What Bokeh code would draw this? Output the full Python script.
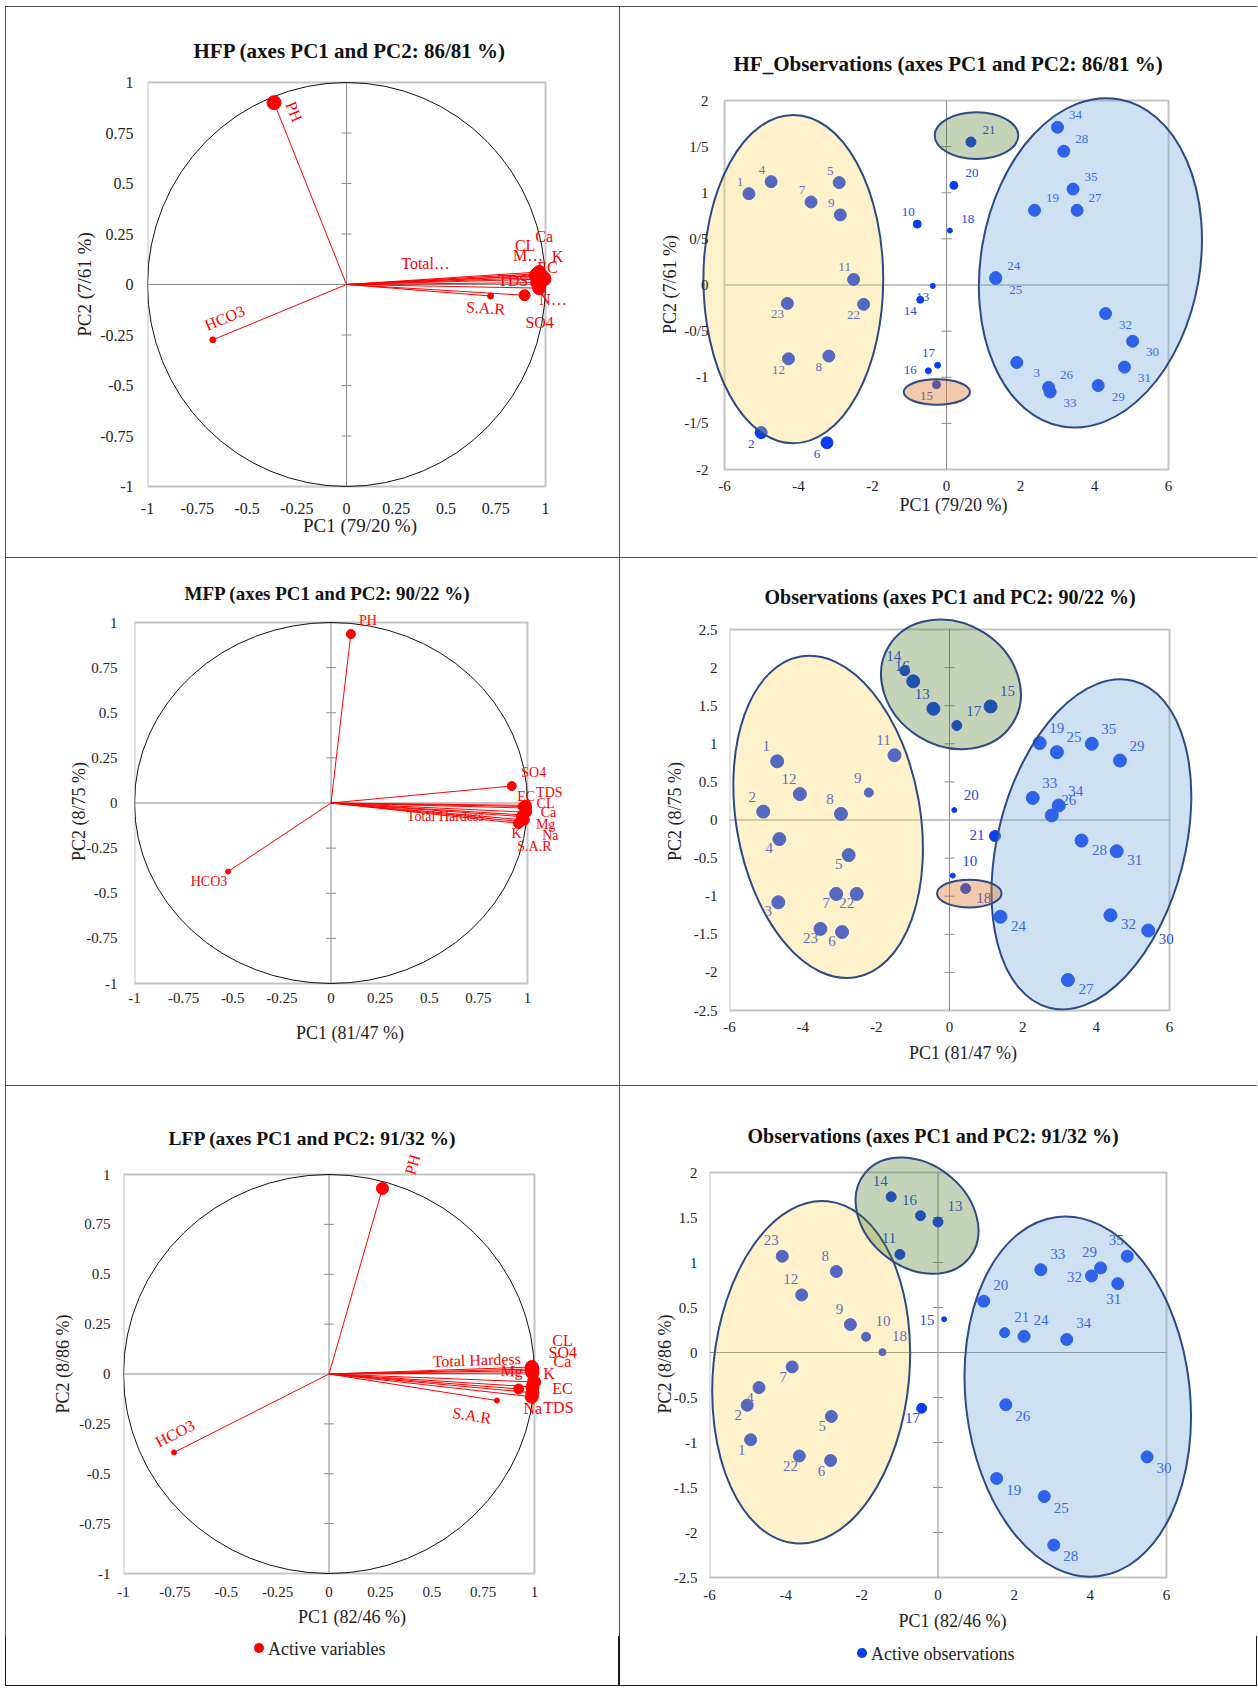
import math
from bokeh.plotting import figure
from bokeh.layouts import row, column
from bokeh.models import (ColumnDataSource, Range1d, FixedTicker, CustomJSTickFormatter, Spacer, Div)
from bokeh.core.properties import value
from bokeh.embed import file_html
from bokeh.resources import INLINE

SERIF = "Liberation Serif"
RED = "#ff0000"
BLUE = "#0a3cf0"
TXT = "#222222"

# ====================== DATA ======================
VARIABLES = ["PH", "HCO3", "EC", "TDS", "Ca", "Mg", "Na", "K", "CL", "SO4", "Total Hardness", "S.A.R"]

# HFP correlation circle
HFP_PC1 = [-0.364, -0.672, 0.995, 0.958, 0.968, 0.978, 0.968, 0.990, 0.958, 0.895, 0.950, 0.724]
HFP_PC2 = [0.900, -0.274, 0.027, 0.009, 0.062, 0.044, -0.018, 0.035, 0.053, -0.053, 0.044, -0.057]
HFP_LABELS = ["PH", "HCO3", "EC", "TDS", "Ca", "M…", "N…", "K", "CL", "SO4", "Total…", "S.A.R"]

# MFP correlation circle
MFP_PC1 = [0.101, -0.524, 0.978, 0.994, 0.995, 0.970, 0.984, 0.954, 0.995, 0.920, 0.974, 0.964]
MFP_PC2 = [0.936, -0.380, -0.019, -0.013, -0.051, -0.075, -0.094, -0.113, -0.028, 0.094, -0.066, -0.103]
MFP_LABELS = ["PH", "HCO3", "EC", "TDS", "Ca", "Mg", "Na", "K", "CL", "SO4", "Total Hardess", "S.A.R"]

# LFP correlation circle
LFP_PC1 = [0.260, -0.754, 0.990, 0.990, 0.990, 0.923, 0.987, 0.998, 0.990, 0.987, 0.987, 0.817]
LFP_PC2 = [0.930, -0.393, -0.065, -0.094, 0.006, -0.075, -0.114, -0.040, 0.025, 0.017, 0.035, -0.133]
LFP_LABELS = ["PH", "HCO3", "EC", "TDS", "Ca", "Mg", "Na", "K", "CL", "SO4", "Total Hardess", "S.A.R"]

# HF observations
HF_OBS = [str(i) for i in range(1, 36)]
HF_PC1 = [-5.34, -5.01, 1.90, -4.74, -2.90, -3.23, -3.66, -3.18, -2.87, -0.79,
          -2.51, -4.27, -0.37, -0.71, -0.27, -0.49, -0.24, 0.09, 2.38, 0.20,
          0.66, -2.24, -4.30, 1.33, 1.33, 2.76, 3.53, 3.17, 4.10, 5.03,
          4.81, 4.30, 2.80, 3.00, 3.42]
HF_PC2 = [0.99, -1.60, -0.84, 1.12, 1.11, -1.71, 0.90, -0.77, 0.76, 0.66,
          0.06, -0.80, -0.01, -0.16, -1.08, -0.93, -0.87, 0.59, 0.81, 1.08,
          1.55, -0.21, -0.20, 0.08, 0.07, -1.11, 0.81, 1.45, -1.09, -0.61,
          -0.89, -0.31, -1.16, 1.71, 1.04]

# MF observations
MF_OBS = [str(i) for i in range(1, 36)]
MF_PC1 = [-4.70, -5.08, -4.67, -4.64, -2.75, -2.93, -3.09, -2.96, -2.20, 0.09,
          -1.50, -4.08, -0.44, -1.22, 1.12, -0.99, 0.20, 0.44, 2.46, 0.13,
          1.24, -2.53, -3.52, 1.39, 2.93, 2.79, 3.23, 3.60, 4.65, 5.42,
          4.56, 4.39, 2.27, 2.98, 3.88]
MF_PC2 = [0.77, 0.11, -1.08, -0.25, -0.46, -1.47, -0.97, 0.08, 0.36, -0.73,
          0.85, 0.34, 1.46, 1.96, 1.49, 1.82, 1.24, -0.90, 1.01, 0.13,
          -0.21, -0.97, -1.43, -1.27, 0.89, 0.06, -2.10, -0.27, 0.78, -1.45,
          -0.41, -1.25, 0.29, 0.19, 1.00]

# LF observations
LF_OBS = ["1", "2", "4", "5", "6", "7", "8", "9", "10", "11", "12", "13", "14", "15", "16", "17",
          "18", "19", "20", "21", "22", "23", "24", "25", "26", "28", "29", "30", "31", "32",
          "33", "34", "35"]
LF_PC1 = [-4.92, -5.01, -4.70, -2.80, -2.82, -3.83, -2.67, -2.30, -1.89, -1.00, -3.58, 0.00,
          -1.23, 0.16, -0.46, -0.43, -1.46, 1.54, 1.20, 1.75, -3.64, -4.09, 2.26, 2.79, 1.78,
          3.04, 4.27, 5.49, 4.72, 4.03, 2.70, 3.38, 4.97]
LF_PC2 = [-0.97, -0.585, -0.39, -0.71, -1.20, -0.16, 0.90, 0.31, 0.175, 1.09, 0.64, 1.45,
          1.73, 0.37, 1.52, -0.62, 0.004, -1.40, 0.57, 0.22, -1.15, 1.07, 0.18, -1.60, -0.58,
          -2.14, 0.94, -1.16, 0.765, 0.85, 0.92, 0.145, 1.07]

# Tick values
CIRCLE_TICKS = [-1, -0.75, -0.5, -0.25, 0, 0.25, 0.5, 0.75, 1]
OBS_X_TICKS = [-6, -4, -2, 0, 2, 4, 6]
HF_Y_TICKS = [-2, -1.5, -1, -0.5, 0, 0.5, 1, 1.5, 2]
MF_Y_TICKS = [-2.5, -2, -1.5, -1, -0.5, 0, 0.5, 1, 1.5, 2, 2.5]
LF_Y_TICKS = [-2.5, -2, -1.5, -1, -0.5, 0, 0.5, 1, 1.5, 2]

# Group ellipses: (kind, centre PC1, centre PC2, width PC1, height PC2, angle rad)
HF_GROUPS = [("yellow", -4.14, 0.064, 4.86, 3.56, 0.0), ("blue", 3.89, 0.24, 5.92, 3.60, -0.17),
             ("green", 0.81, 1.62, 2.26, 0.507, 0.0), ("orange", -0.26, -1.16, 1.79, 0.275, 0.0)]
MF_GROUPS = [("yellow", -3.31, 0.04, 5.02, 4.27, 0.17), ("blue", 3.87, -0.32, 5.10, 4.43, -0.253),
             ("green", 0.04, 1.78, 3.98, 1.61, -0.56), ("orange", 0.54, -0.965, 1.76, 0.365, 0.0)]
LF_GROUPS = [("yellow", -3.33, -0.22, 5.15, 3.82, -0.095), ("blue", 3.67, -0.49, 5.89, 4.02, 0.113),
             ("green", -0.55, 1.52, 3.53, 1.14, -0.68)]

# ====================== STYLE ======================
GROUP_FILL = {"yellow": ("#ffd24d", 0.30), "blue": ("#6fa8dc", 0.35),
              "green": ("#4e7d2a", 0.33), "orange": ("#e0782e", 0.40)}

# label placement (dx px right, dy px down, angle deg) for the variables
HFP_LAB = {"PH": (20, 9, -68), "HCO3": (12, -22, 22.5), "EC": (3, -12, 0), "TDS": (-24, -2, 0),
           "Ca": (5, -35, 0), "Mg": (-13, -20, 0), "Na": (14, 11, 0), "K": (14, -21, 0),
           "CL": (-12, -28, 0), "SO4": (15, 27, 0), "Total Hardness": (-110, -12, 0),
           "S.A.R": (-5, 12, -4)}
MFP_LAB = {"PH": (17, -14, 0), "HCO3": (-19, 10, 0), "EC": (3, -10, 0), "TDS": (23, -13, 0),
           "Ca": (22, 0, 0), "Mg": (24, 8, 0), "Na": (26, 16, 0), "K": (-2, 10, 0),
           "CL": (19, -5, 0), "SO4": (22, -14, 0), "Total Hardness": (-77, 2, 0),
           "S.A.R": (14, 25, 0)}
LFP_LAB = {"PH": (30, -24, 74), "HCO3": (1, -19, 27), "EC": (30, 2, 0), "TDS": (26, 15, 0),
           "Ca": (30, -11, 0), "Mg": (-7, -18, -2), "Na": (1, 12, 0), "K": (15, -8, 0),
           "CL": (30, -29, 0), "SO4": (31, -18, 0), "Total Hardness": (-55, -7, 2),
           "S.A.R": (-25, 15, -9)}
HFP_SIZE = [14, 6, 13, 13, 13, 13, 13, 13, 13, 11, 13, 6]
MFP_SIZE = [9, 5, 10, 10, 10, 10, 10, 10, 10, 9, 10, 10]
LFP_SIZE = [12, 5, 13, 13, 13, 10, 13, 13, 13, 13, 13, 5]

HF_DIR = ["ul", "dl", "dr", "ul", "ul", "dl", "ul", "dl", "ul", "ul", "ul", "dl", "dl", "dl", "dl",
          "l", "ul", "ur", "ur", "ur", "ur", "dl", "dl", "ur", "dr", "ur", "ur", "ur", "dr", "dr",
          "dr", "dr", "dr", "ur", "ur"]
MF_DIR = ["ul", "ul", "dl", "dl", "dl", "dl", "dl", "ul", "ul", "ur", "ul", "ul", "ul", "ul", "ur",
          "ul", "ur", "dr", "ur", "ur", "l", "dl", "dl", "dr", "ur", "ur", "dr", "dr", "ur", "dr",
          "dr", "dr", "ur", "ur", "ur"]
LF_DIR = ["dl", "dl", "dl", "dl", "dl", "dl", "ul", "ul", "ur", "ul", "ul", "ur", "ul", "l", "ul",
          "dl", "ur", "dr", "ur", "ur", "dl", "ul", "ur", "dr", "dr", "dr", "ul", "dr", "d", "l",
          "ur", "ur", "ul"]
HF_OFF = {"ul": (-9, -12), "ur": (18, -12), "dl": (-10, 11), "dr": (20, 11), "l": (-18, -1), "d": (-3, 14)}
MF_OFF = {"ul": (-11, -15), "ur": (17, -15), "dl": (-10, 9), "dr": (18, 9), "l": (-18, -1), "d": (-4, 15)}
LF_OFF = {"ul": (-11, -16), "ur": (17, -16), "dl": (-9, 10), "dr": (17, 11), "l": (-17, 1), "d": (-4, 15)}
HF_SMALL = {"10": 8, "13": 5, "14": 7, "15": 8, "16": 6, "17": 6, "18": 5, "20": 8, "21": 10}
MF_SMALL = {"9": 9, "10": 5, "14": 10, "17": 10, "18": 10, "20": 5, "21": 11}
LF_SMALL = {"10": 9, "11": 10, "13": 10, "14": 10, "15": 5, "16": 10, "17": 10, "18": 7, "21": 10}

# page geometry (px): cells, visible plot boxes and drawing frames
COL_X = (5, 619)
COL_W = (614, 638)
ROW_Y = (6, 557, 1085)
ROW_H = (551, 528, 551)
LEGEND_H = 50


def make_fig(cell, vis, act, xd, yd, title, tpx, tstand, toff):
    cx0, cy0, cw, ch = cell
    vx0, vx1, vy0, vy1 = vis
    ax0, ax1, ay0, ay1 = act
    kx = (vx1 - vx0) / (xd[1] - xd[0])
    ky = (vy1 - vy0) / (yd[1] - yd[0])
    xr = Range1d(xd[0] - (vx0 - ax0) / kx, xd[1] + (ax1 - vx1) / kx)
    yr = Range1d(yd[0] - (ay1 - vy1) / ky, yd[1] + (vy0 - ay0) / ky)
    p = figure(width=cw, height=ch, x_range=xr, y_range=yr,
               output_backend="svg", toolbar_location=None, tools="",
               min_border_left=ax0 - cx0, min_border_right=cx0 + cw - ax1,
               min_border_top=ay0 - cy0, min_border_bottom=cy0 + ch - ay1)
    p.xgrid.visible = False
    p.ygrid.visible = False
    p.background_fill_color = "white"
    p.border_fill_color = "white"
    p.outline_line_color = None
    p.title.text = title
    p.title.text_font = SERIF
    p.title.text_font_style = "bold"
    p.title.text_font_size = tpx
    p.title.text_color = "#111111"
    p.title.align = "left"
    p.title.standoff = tstand
    p.title.offset = toff
    # visible plot box and centre axes
    p.quad(left=xd[0], right=xd[1], bottom=yd[0], top=yd[1], fill_color=None,
           line_color="#c4c4c4", line_width=2)
    p.segment(x0=[xd[0], 0], y0=[0, yd[0]], x1=[xd[1], 0], y1=[0, yd[1]],
              line_color="#8c8c8c", line_width=1)
    return p


def style_axes(p, xticks, yticks, tick_px, lab_px, xlab, ylab, xts, yts, xls, yls, slash=False):
    p.xaxis.ticker = FixedTicker(ticks=xticks)
    p.yaxis.ticker = FixedTicker(ticks=yticks)
    p.xaxis.formatter = CustomJSTickFormatter(code="return String(tick);")
    if slash:
        p.yaxis.formatter = CustomJSTickFormatter(code="return String(tick).replace('.', '/');")
    else:
        p.yaxis.formatter = CustomJSTickFormatter(code="return String(tick);")
    for ax in (p.xaxis[0], p.yaxis[0]):
        ax.axis_line_color = None
        ax.major_tick_line_color = None
        ax.minor_tick_line_color = None
        ax.major_tick_in = 0
        ax.major_tick_out = 0
        ax.minor_tick_in = 0
        ax.minor_tick_out = 0
        ax.major_label_text_font = SERIF
        ax.major_label_text_font_size = f"{tick_px}px"
        ax.major_label_text_color = TXT
        ax.axis_label_text_font = SERIF
        ax.axis_label_text_font_size = f"{lab_px}px"
        ax.axis_label_text_font_style = "normal"
        ax.axis_label_text_color = TXT
    p.xaxis.axis_label = xlab
    p.yaxis.axis_label = ylab
    p.xaxis.major_label_standoff = xts
    p.yaxis.major_label_standoff = yts
    p.xaxis.axis_label_standoff = xls
    p.yaxis.axis_label_standoff = yls
    inner = [t for t in yticks if t != 0 and t != yticks[0] and t != yticks[-1]]
    p.scatter(x=[0] * len(inner), y=inner, marker="dash", size=10, line_color="#8c8c8c", line_width=1)


def circle_panel(p, pc1, pc2, labels, sizes, lab_style, font_px):
    dx = [lab_style[v][0] for v in VARIABLES]
    dy = [lab_style[v][1] for v in VARIABLES]
    ang = [math.radians(lab_style[v][2]) for v in VARIABLES]
    src = ColumnDataSource(dict(x=pc1, y=pc2, lab=labels, dx=dx, dy=dy, ang=ang, s=sizes))
    p.ellipse(x=0, y=0, width=2, height=2, fill_color=None, line_color="#111111", line_width=1)
    p.text(x="x", y="y", text="lab", x_offset="dx", y_offset="dy", angle="ang", source=src,
           text_align="center", text_baseline="middle", text_font=value(SERIF),
           text_font_size=f"{font_px}px", text_color=RED)
    p.segment(x0=0, y0=0, x1="x", y1="y", source=src, line_color=RED, line_width=1)
    p.scatter(x="x", y="y", size="s", source=src, fill_color=RED, line_color=RED)


def obs_panel(p, obs, pc1, pc2, dirs, offs, small, default_size, groups, font_px):
    dx = [offs[d][0] for d in dirs]
    dy = [offs[d][1] for d in dirs]
    sizes = [small.get(o, default_size) for o in obs]
    src = ColumnDataSource(dict(x=pc1, y=pc2, lab=obs, dx=dx, dy=dy, s=sizes))
    p.scatter(x="x", y="y", size="s", source=src, fill_color=BLUE, line_color=BLUE)
    p.text(x="x", y="y", text="lab", x_offset="dx", y_offset="dy", source=src,
           text_align="center", text_baseline="middle", text_font=value(SERIF),
           text_font_size=f"{font_px}px", text_color="#2146f2")
    for kind, cx, cy, w, h, a in groups:
        fc, fa = GROUP_FILL[kind]
        p.ellipse(x=cx, y=cy, width=w, height=h, angle=a, fill_color=fc, fill_alpha=fa,
                  line_color="#2b4a86", line_width=2)


def legend_div(width, text, color, dot_x, dot_y, text_x):
    html = (f'<div style="position:relative;height:{LEGEND_H}px;'
            f'font-family:\'Liberation Serif\';font-size:18px;color:{TXT};">'
            f'<span style="position:absolute;left:{dot_x - 5}px;top:{dot_y - 5}px;width:10px;height:10px;'
            f'border-radius:50%;background:{color};"></span>'
            f'<span style="position:absolute;left:{text_x}px;top:{dot_y - 11}px;white-space:nowrap;">'
            f'{text}</span></div>')
    return Div(text=html, width=width, height=LEGEND_H, margin=0)


OUTLINE = {"outline": "1px solid #1a1a1a", "outline-offset": "-1px"}

# ---------- Panel 1: HFP ----------
p1 = make_fig((COL_X[0], ROW_Y[0], COL_W[0], ROW_H[0]), (147, 545, 82, 486), (147, 572, 80, 488),
              (-1, 1), (-1, 1), "HFP (axes PC1 and PC2: 86/81 %)", "21px", 36, 46)
style_axes(p1, CIRCLE_TICKS, CIRCLE_TICKS, 16, 19, "PC1 (79/20 %)", "PC2 (7/61 %)", 14, 14, -2, 2)
circle_panel(p1, HFP_PC1, HFP_PC2, HFP_LABELS, HFP_SIZE, HFP_LAB, 16)
p1.styles = OUTLINE

# ---------- Panel 2: HF observations ----------
p2 = make_fig((COL_X[1], ROW_Y[0], COL_W[1], ROW_H[0]), (724, 1168, 100, 469), (700, 1206, 80, 488),
              (-6, 6), (-2, 2), "HF_Observations (axes PC1 and PC2: 86/81 %)", "21px", 9, 33)
style_axes(p2, OBS_X_TICKS, HF_Y_TICKS, 15, 18, "PC1 (79/20 %)", "PC2 (7/61 %)", -8, -8, 1, 1, slash=True)
obs_panel(p2, HF_OBS, HF_PC1, HF_PC2, HF_DIR, HF_OFF, HF_SMALL, 12, HF_GROUPS, 13)
p2.styles = OUTLINE

# ---------- Panel 3: MFP ----------
p3 = make_fig((COL_X[0], ROW_Y[1], COL_W[0], ROW_H[1]), (134, 527, 622, 983), (134, 565, 610, 1012),
              (-1, 1), (-1, 1), "MFP (axes PC1 and PC2: 90/22 %)", "19px", 14, 50)
style_axes(p3, CIRCLE_TICKS, CIRCLE_TICKS, 15, 18, "PC1 (81/47 %)", "PC2 (8/75 %)", -20, 17, 17, -6)
circle_panel(p3, MFP_PC1, MFP_PC2, MFP_LABELS, MFP_SIZE, MFP_LAB, 14)
p3.styles = OUTLINE

# ---------- Panel 4: MF observations ----------
p4 = make_fig((COL_X[1], ROW_Y[1], COL_W[1], ROW_H[1]), (729, 1169, 629, 1010), (729, 1196, 610, 1012),
              (-6, 6), (-2.5, 2.5), "Observations (axes PC1 and PC2: 90/22 %)", "20px", 5, 35)
style_axes(p4, OBS_X_TICKS, MF_Y_TICKS, 15, 18, "PC1 (81/47 %)", "PC2 (8/75 %)", 9, 12, 8, 6)
obs_panel(p4, MF_OBS, MF_PC1, MF_PC2, MF_DIR, MF_OFF, MF_SMALL, 13, MF_GROUPS, 15)
p4.styles = OUTLINE

# ---------- Panel 5: LFP ----------
p5 = make_fig((COL_X[0], ROW_Y[2], COL_W[0], ROW_H[2]), (123, 534, 1174, 1573), (123, 580, 1148, 1579),
              (-1, 1), (-1, 1), "LFP (axes PC1 and PC2: 91/32 %)", "19.5px", 0, 45)
style_axes(p5, CIRCLE_TICKS, CIRCLE_TICKS, 15, 18, "PC1 (82/46 %)", "PC2 (8/86 %)", 7, 13, 7, 3)
circle_panel(p5, LFP_PC1, LFP_PC2, LFP_LABELS, LFP_SIZE, LFP_LAB, 16)
leg5 = legend_div(COL_W[0], "Active variables", RED, 254, 12, 263)
cell5 = column(p5, leg5, styles=OUTLINE)

# ---------- Panel 6: LF observations ----------
p6 = make_fig((COL_X[1], ROW_Y[2], COL_W[1], ROW_H[2]), (709, 1166, 1172, 1577), (709, 1195, 1148, 1579),
              (-6, 6), (-2.5, 2), "Observations (axes PC1 and PC2: 91/32 %)", "20px", 3, 38)
style_axes(p6, OBS_X_TICKS, LF_Y_TICKS, 15, 18, "PC1 (82/46 %)", "PC2 (8/86 %)", 10, 12, 8, -4)
obs_panel(p6, LF_OBS, LF_PC1, LF_PC2, LF_DIR, LF_OFF, LF_SMALL, 12, LF_GROUPS, 15)
leg6 = legend_div(COL_W[1], "Active observations", BLUE, 243, 17, 252)
cell6 = column(p6, leg6, styles=OUTLINE)

grid = column(row(p1, p2), row(p3, p4), row(cell5, cell6))
layout = column(Spacer(height=6), row(Spacer(width=5), grid))

with open("out.html", "w") as f:
    f.write(file_html(layout, INLINE))
